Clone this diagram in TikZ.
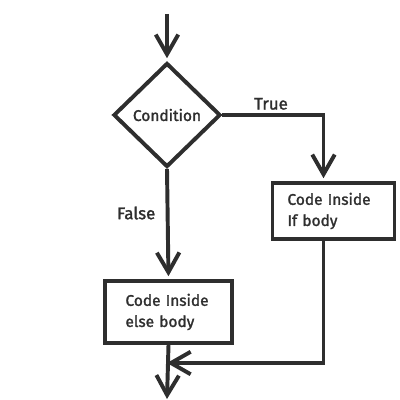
\documentclass[tikz,border=0pt]{standalone}
\usepackage{fontspec}
\setmainfont{Fira Sans}[FakeBold=1.6]
\usepackage{tikz}
\usetikzlibrary{shapes.geometric,arrows.meta,calc}
\definecolor{ink}{HTML}{2E2E2E}

\begin{document}
\begin{tikzpicture}[x=0.025cm, y=-0.025cm, line width=2.8pt, draw=ink, text=ink,
	font=\fontsize{11}{15}\selectfont,
	decision/.style={diamond, draw, inner sep=0pt, minimum width=2.675cm, minimum height=2.6cm},
	block/.style={rectangle, draw, align=left, minimum height=1.55cm},
	flow/.style={-{Straight Barb[length=14pt, width=16pt, line width=2.8pt]}, shorten >=2pt},
	answer/.style={font=\fontsize{12}{15}\selectfont}]
	\useasboundingbox (0,0) rectangle (400,400);
	\coordinate (start) at (167,14);
	\node[decision] (cond) at (167,115) {Condition};
	\node[block, text width=2.3cm, inner xsep=0.375cm, minimum height=1.4cm] (ifbody) at (333.5,211) {Code Inside\\If body};
	\node[block, text width=2.15cm, inner xsep=0.5125cm] (elsebody) at (168.5,312) {Code Inside\\else body};
	\coordinate (merge) at (167,363);
	\coordinate (stop) at (167,399);
	\draw[flow] (start) -- (cond.north);
	\draw[flow] (cond.east) -| node[answer, pos=0.24, above, yshift=-1pt] {True} ([xshift=-0.25cm]ifbody.north);
	\draw[flow] (cond.south) -- node[answer, pos=0.4, left, xshift=-4pt] {False} (elsebody.north);
	\draw[flow, shorten >=0pt] ([xshift=-0.25cm]ifbody.south) |- (merge);
	\draw[flow, shorten >=0pt] (elsebody.south) -- (stop);
\end{tikzpicture}
\end{document}
